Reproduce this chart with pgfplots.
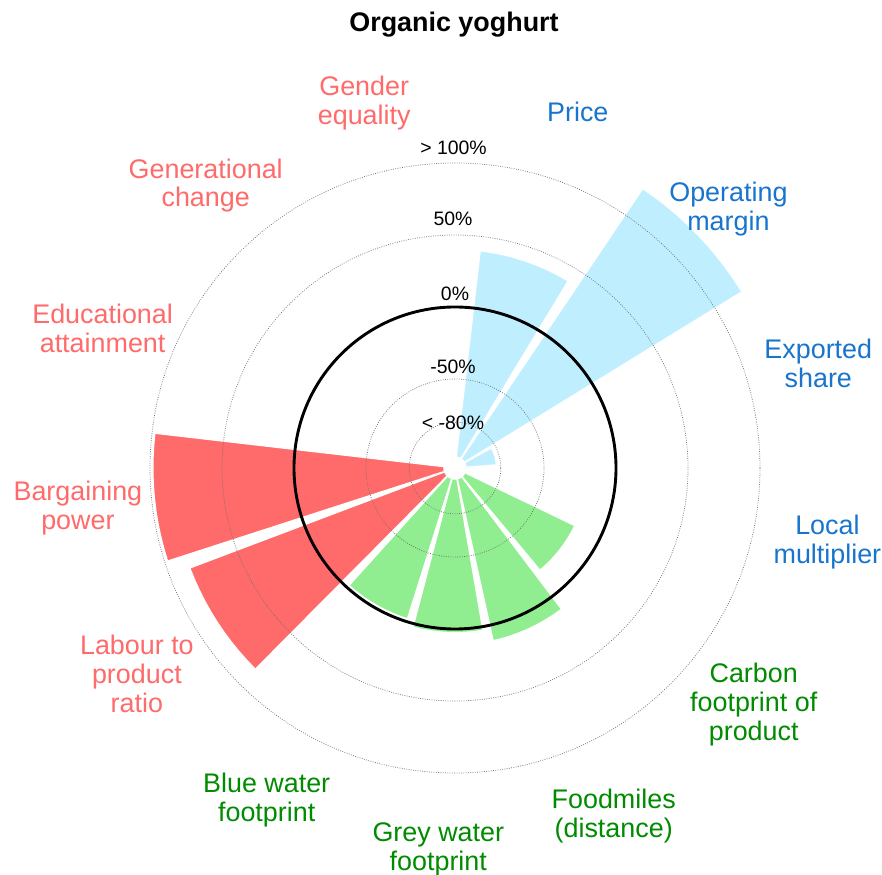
\documentclass[border=0pt]{standalone}
\usepackage{fontspec}
\setmainfont{Liberation Sans}
\usepackage{pgfplots}
\usepackage{pgfplotstable}
\pgfplotsset{compat=1.18}
\definecolor{barblue}{HTML}{BFEFFF}
\definecolor{barred}{HTML}{FF6A6A}
\definecolor{bargreen}{HTML}{90EE90}
\definecolor{txtblue}{HTML}{1874CD}
\definecolor{txtred}{HTML}{FF6A6A}
\definecolor{txtgreen}{HTML}{008B00}

% geometry of one wedge: angular offset t (deg) from the wedge centre, b=0 inner edge, b=1 outer edge
\pgfplotstableread{
t b
-12.27 0
-12.27 1
-9.82 1
-7.36 1
-4.91 1
-2.45 1
0 1
2.45 1
4.91 1
7.36 1
9.82 1
12.27 1
12.27 0
}\sectorshape

% #1 colour, #2 centre angle (deg, ccw from east), #3 value in percent
\newcommand{\sector}[3]{%
  \addplot[data cs=polar, fill=#1, draw=white, line width=1.2pt, line join=round]
    table[x expr={#2+\thisrow{t}}, y expr={12+\thisrow{b}*(149+1.44*(#3))}] {\sectorshape};
}
\tikzset{gridcirc/.style={black!55, line width=0.75pt, dash pattern=on 0.8pt off 1.5pt},
  catlab/.style={font=\fontsize{27}{29}\selectfont, align=center},
  ticklab/.style={font=\fontsize{19.5}{22}\selectfont}}

\begin{document}
\begin{tikzpicture}
\begin{axis}[x=1bp, y=1bp, xmin=-455, xmax=427, ymin=-407, ymax=468,
  hide axis, clip=false]
% values (percent)
\sector{barblue}{71.10}{40}     % Price
\sector{barblue}{43.83}{122}    % Operating margin
\sector{barblue}{16.56}{-83}    % Exported share
% Local multiplier: below scale, nothing drawn
\sector{bargreen}{-37.98}{-19.5} % Carbon footprint of product
\sector{bargreen}{-65.25}{11}   % Foodmiles (distance)
\sector{bargreen}{-92.52}{2.5}  % Grey water footprint
\sector{bargreen}{-119.79}{-2}  % Blue water footprint
\sector{barred}{-147.06}{85}    % Labour to product ratio
\sector{barred}{-174.33}{98}    % Bargaining power
% Educational attainment, Generational change, Gender equality: nothing drawn

% grid circles
\draw[gridcirc] (axis cs:0,0) circle[radius=45.8bp];
\draw[gridcirc] (axis cs:0,0) circle[radius=89bp];
\draw[gridcirc] (axis cs:0,0) circle[radius=233bp];
\draw[gridcirc] (axis cs:0,0) circle[radius=305bp];
\draw[black, line width=2.9pt] (axis cs:0,0) circle[radius=161bp];

% radial tick labels
\node[ticklab] at (axis cs:-1.5,320) {> 100\%};
\node[ticklab] at (axis cs:-2,249) {50\%};
\node[ticklab] at (axis cs:0,174) {0\%};
\node[ticklab] at (axis cs:-2,101) {-50\%};
\node[ticklab] at (axis cs:-2,45) {< -80\%};

% category labels
\node[catlab, text=txtblue] at (axis cs:122.8,356.6) {Price};
\node[catlab, text=txtblue] at (axis cs:273.4,258.9) {Operating\\margin};
\node[catlab, text=txtblue] at (axis cs:363.3,105.0) {Exported\\share};
\node[catlab, text=txtblue] at (axis cs:372.4,-74.4) {Local\\multiplier};
\node[catlab, text=txtgreen] at (axis cs:298.7,-236.7) {Carbon\\footprint of\\product};
\node[catlab, text=txtgreen] at (axis cs:158.7,-348.0) {Foodmiles\\(distance)};
\node[catlab, text=txtgreen] at (axis cs:-16.7,-381.6) {Grey water\\footprint};
\node[catlab, text=txtgreen] at (axis cs:-188.3,-331.9) {Blue water\\footprint};
\node[catlab, text=txtred] at (axis cs:-318.1,-206.1) {Labour to\\product\\ratio};
\node[catlab, text=txtred] at (axis cs:-377.1,-40.4) {Bargaining\\power};
\node[catlab, text=txtred] at (axis cs:-352.4,139.5) {Educational\\attainment};
\node[catlab, text=txtred] at (axis cs:-249.3,282.5) {Generational\\change};
\node[catlab, text=txtred] at (axis cs:-90.8,364.5) {Gender\\equality};

% title
\node[font=\fontsize{27}{30}\selectfont\bfseries] at (axis cs:-1,443) {Organic yoghurt};
\end{axis}
\pgfresetboundingbox
\useasboundingbox (current axis.south west) rectangle (current axis.north east);
\end{tikzpicture}
\end{document}
